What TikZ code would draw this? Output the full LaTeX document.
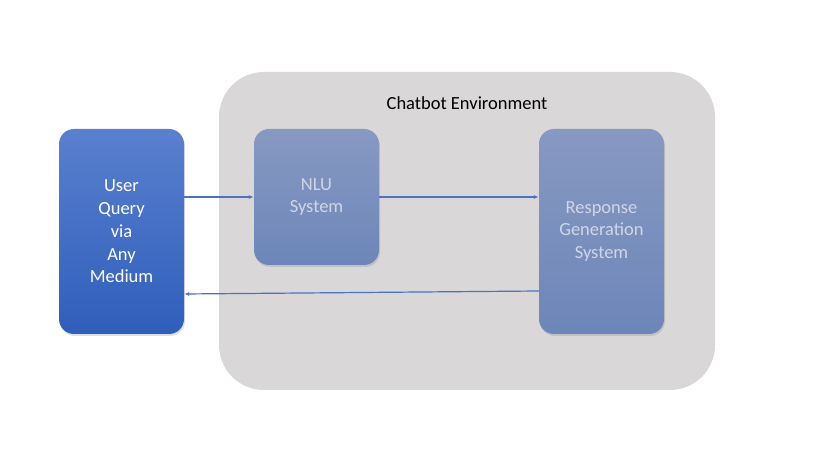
\documentclass[tikz,border=0pt]{standalone}
\usepackage{fontspec}
\setmainfont{Carlito}
\usetikzlibrary{arrows.meta,shadows}
\definecolor{envgray}{HTML}{D9D7D7}
\definecolor{usertop}{HTML}{5A80CF}
\definecolor{userbot}{HTML}{2F5EBB}
\definecolor{systop}{HTML}{8799C2}
\definecolor{sysbot}{HTML}{6D86B9}
\definecolor{systext}{HTML}{D0D6E4}
\definecolor{arrowblue}{HTML}{4A72C2}
\begin{document}
\begin{tikzpicture}[x=1pt,y=-1pt,
  font=\fontsize{18.5}{22.7}\selectfont,
  env/.style={fill=envgray,draw=none,rounded corners=45pt},
  userbox/.style={draw=none,rounded corners=15pt,top color=usertop,bottom color=userbot,
    drop shadow={shadow xshift=1pt,shadow yshift=-2pt,opacity=0.25},text=white,align=center},
  sysbox/.style={draw=none,rounded corners=15pt,top color=systop,bottom color=sysbot,
    drop shadow={shadow xshift=1pt,shadow yshift=-2pt,opacity=0.25},text=systext,align=center},
  conn/.style={draw=arrowblue,line width=1.2pt,-{Latex[length=5pt,width=4pt]}}]
\useasboundingbox (0,0) rectangle (825,454);
\fill[white] (0,0) rectangle (825,454);
\node[env,minimum width=496pt,minimum height=318pt,inner sep=0pt] (env) at (467,231) {};
\node (title) at (467,103) {Chatbot Environment};
\node[userbox,minimum width=125pt,minimum height=205pt,inner sep=0pt] (user) at (121.5,231.5) {\raisebox{-1.5pt}{\parbox{120pt}{\centering User\\Query\\via\\Any\\Medium}}};
\node[sysbox,minimum width=125pt,minimum height=136pt,inner sep=0pt] (nlu) at (316.5,197) {NLU\\System};
\node[sysbox,minimum width=125pt,minimum height=205pt,inner sep=0pt] (resp) at (601.5,231.5) {\raisebox{-1.5pt}{\parbox{120pt}{\centering Response\\Generation\\System}}};
\draw[conn] (user.east |- 0,197) -- (nlu.west |- 0,197);
\draw[conn] (nlu.east |- 0,197) -- (resp.west |- 0,197);
\draw[conn] (resp.west |- 0,291) -- (user.east |- 0,294);
\end{tikzpicture}
\end{document}
